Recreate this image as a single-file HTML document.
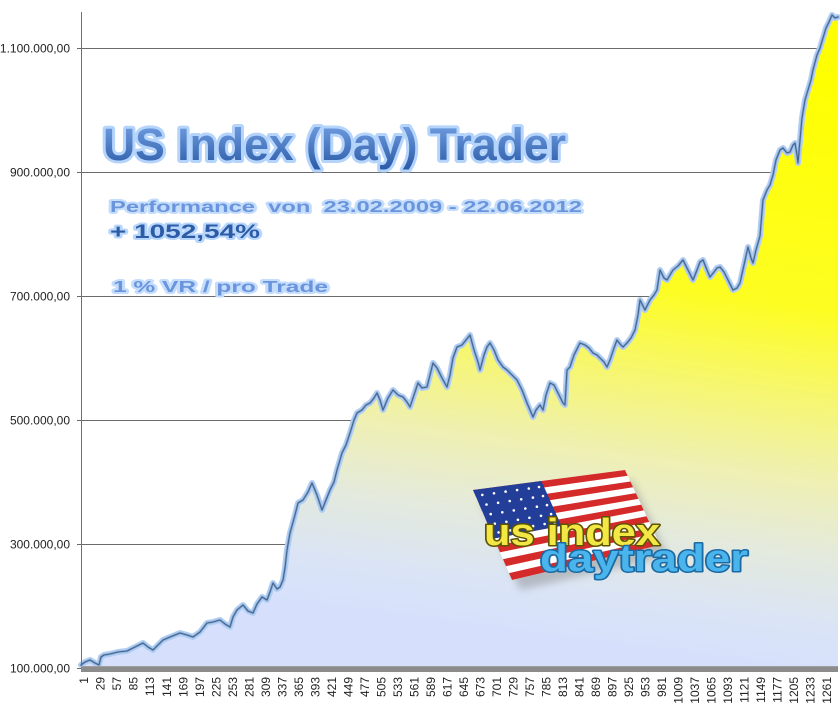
<!DOCTYPE html>
<html><head><meta charset="utf-8"><style>
html,body{margin:0;padding:0;background:#fff;}
svg{display:block;}
</style></head><body>
<svg width="840" height="706" viewBox="0 0 840 706" xmlns="http://www.w3.org/2000/svg">
<defs>
<linearGradient id="fillg" gradientUnits="userSpaceOnUse" x1="780" y1="60" x2="700" y2="660">
<stop offset="0" stop-color="#ffff00"/>
<stop offset="0.4" stop-color="#fdfd22"/>
<stop offset="0.55" stop-color="#f6f672"/>
<stop offset="0.68" stop-color="#eff0b2"/>
<stop offset="0.8" stop-color="#e4eadc"/>
<stop offset="0.92" stop-color="#dae4f6"/>
<stop offset="1" stop-color="#d6e0fc"/>
</linearGradient>
<linearGradient id="titleg" x1="0" y1="0" x2="0" y2="1">
<stop offset="0" stop-color="#78a4e6"/>
<stop offset="1" stop-color="#2a5aa6"/>
</linearGradient>
<filter id="blur" x="-20%" y="-20%" width="140%" height="140%"><feGaussianBlur stdDeviation="4"/></filter>
<polyline id="ln" points="81,665 85,662 90,660 95,663 99,665 101,657 104,655 110,654 118,652 127,651 135,647 143,643 148,647 153,650 158,645 163,640 170,637 180,633 187,635 193,637 200,632 207,623 213,622 220,620 225,624 230,627 233,617 237,610 243,605 248,611 253,613 257,604 262,597 267,600 270,592 273,583 277,589 280,587 283,580 285,568 287,550 290,533 295,515 298,503 303,500 308,492 312,483 317,495 322,510 326,500 330,490 334,482 337,470 342,453 346,445 350,433 354,420 357,413 362,410 366,405 370,403 374,398 377,393 380,400 383,410 388,398 393,390 398,395 403,397 407,402 410,407 414,395 418,383 422,388 427,387 430,375 433,363 437,368 442,378 447,387 450,375 453,358 457,347 462,345 466,340 470,335 474,350 478,362 480,370 484,355 487,347 490,343 494,350 498,360 503,367 507,370 512,375 517,380 522,390 527,403 530,410 533,417 536,410 540,405 543,410 546,395 550,383 554,385 558,393 563,403 565,405 567,370 570,367 574,355 578,347 580,343 585,345 589,348 593,353 597,355 600,358 604,362 607,367 610,360 614,348 617,340 620,344 623,347 627,343 631,338 635,330 638,315 640,300 643,306 645,310 650,300 654,295 657,290 660,270 664,278 667,280 670,275 673,270 678,266 683,260 688,270 693,280 697,270 700,262 703,260 707,270 710,277 714,272 717,268 720,267 724,272 728,280 733,290 737,288 740,283 744,265 748,247 751,258 753,263 756,250 760,236 763,200 767,190 770,185 773,175 776,160 780,150 783,148 787,153 790,152 793,145 795,143 797,155 798,163 800,140 802,118 805,100 808,90 811,80 813,70 817,55 820,48 823,38 826,28 829,22 832,15 835,18 838,17"/>
</defs>

<!-- gridlines -->
<g stroke="#6a6a6a" stroke-width="1">
<line x1="81" y1="48.5" x2="838" y2="48.5"/>
<line x1="81" y1="172.5" x2="838" y2="172.5"/>
<line x1="81" y1="296.5" x2="838" y2="296.5"/>
<line x1="81" y1="420.5" x2="838" y2="420.5"/>
<line x1="81" y1="544.5" x2="838" y2="544.5"/>
<line x1="77" y1="48.5" x2="81" y2="48.5"/>
<line x1="77" y1="172.5" x2="81" y2="172.5"/>
<line x1="77" y1="296.5" x2="81" y2="296.5"/>
<line x1="77" y1="420.5" x2="81" y2="420.5"/>
<line x1="77" y1="544.5" x2="81" y2="544.5"/>
<line x1="77" y1="668.5" x2="81" y2="668.5"/>
</g>

<!-- area fill -->
<path fill="url(#fillg)" d="M81,668 L81,665 85,662 90,660 95,663 99,665 101,657 104,655 110,654 118,652 127,651 135,647 143,643 148,647 153,650 158,645 163,640 170,637 180,633 187,635 193,637 200,632 207,623 213,622 220,620 225,624 230,627 233,617 237,610 243,605 248,611 253,613 257,604 262,597 267,600 270,592 273,583 277,589 280,587 283,580 285,568 287,550 290,533 295,515 298,503 303,500 308,492 312,483 317,495 322,510 326,500 330,490 334,482 337,470 342,453 346,445 350,433 354,420 357,413 362,410 366,405 370,403 374,398 377,393 380,400 383,410 388,398 393,390 398,395 403,397 407,402 410,407 414,395 418,383 422,388 427,387 430,375 433,363 437,368 442,378 447,387 450,375 453,358 457,347 462,345 466,340 470,335 474,350 478,362 480,370 484,355 487,347 490,343 494,350 498,360 503,367 507,370 512,375 517,380 522,390 527,403 530,410 533,417 536,410 540,405 543,410 546,395 550,383 554,385 558,393 563,403 565,405 567,370 570,367 574,355 578,347 580,343 585,345 589,348 593,353 597,355 600,358 604,362 607,367 610,360 614,348 617,340 620,344 623,347 627,343 631,338 635,330 638,315 640,300 643,306 645,310 650,300 654,295 657,290 660,270 664,278 667,280 670,275 673,270 678,266 683,260 688,270 693,280 697,270 700,262 703,260 707,270 710,277 714,272 717,268 720,267 724,272 728,280 733,290 737,288 740,283 744,265 748,247 751,258 753,263 756,250 760,236 763,200 767,190 770,185 773,175 776,160 780,150 783,148 787,153 790,152 793,145 795,143 797,155 798,163 800,140 802,118 805,100 808,90 811,80 813,70 817,55 820,48 823,38 826,28 829,22 832,15 835,18 838,17 L838,668 Z"/>

<!-- line glow + line -->
<g fill="none" stroke-linejoin="round" stroke-linecap="round">
<use href="#ln" stroke="#b2cef4" stroke-width="6"/>
<use href="#ln" stroke="#8aaed8" stroke-width="2.6"/>
<use href="#ln" stroke="#46648a" stroke-width="1.1"/>
</g>

<!-- axis -->
<line x1="81.5" y1="12" x2="81.5" y2="668" stroke="#707070" stroke-width="1"/>
<rect x="81" y="666" width="757" height="6" fill="#8c8c8c"/>
<rect x="81" y="666" width="757" height="1" fill="#9e9e9e"/>

<!-- y labels -->
<g font-family="Liberation Sans, Arial, sans-serif" font-size="12" fill="#222" text-anchor="end">
<text x="70" y="52.5">1.100.000,00</text>
<text x="70" y="176.5">900.000,00</text>
<text x="70" y="300.5">700.000,00</text>
<text x="70" y="424.5">500.000,00</text>
<text x="70" y="548.5">300.000,00</text>
<text x="70" y="672.5">100.000,00</text>
</g>

<!-- x labels -->
<g font-family="Liberation Sans, Arial, sans-serif" font-size="12" fill="#222" text-anchor="end">
<text transform="translate(84,677) rotate(-90)" dy=".35em">1</text>
<text transform="translate(100.5,677) rotate(-90)" dy=".35em">29</text>
<text transform="translate(117,677) rotate(-90)" dy=".35em">57</text>
<text transform="translate(133.5,677) rotate(-90)" dy=".35em">85</text>
<text transform="translate(150,677) rotate(-90)" dy=".35em">113</text>
<text transform="translate(166.6,677) rotate(-90)" dy=".35em">141</text>
<text transform="translate(183.1,677) rotate(-90)" dy=".35em">169</text>
<text transform="translate(199.6,677) rotate(-90)" dy=".35em">197</text>
<text transform="translate(216.1,677) rotate(-90)" dy=".35em">225</text>
<text transform="translate(232.6,677) rotate(-90)" dy=".35em">253</text>
<text transform="translate(249.1,677) rotate(-90)" dy=".35em">281</text>
<text transform="translate(265.6,677) rotate(-90)" dy=".35em">309</text>
<text transform="translate(282.1,677) rotate(-90)" dy=".35em">337</text>
<text transform="translate(298.6,677) rotate(-90)" dy=".35em">365</text>
<text transform="translate(315.1,677) rotate(-90)" dy=".35em">393</text>
<text transform="translate(331.6,677) rotate(-90)" dy=".35em">421</text>
<text transform="translate(348.2,677) rotate(-90)" dy=".35em">449</text>
<text transform="translate(364.7,677) rotate(-90)" dy=".35em">477</text>
<text transform="translate(381.2,677) rotate(-90)" dy=".35em">505</text>
<text transform="translate(397.7,677) rotate(-90)" dy=".35em">533</text>
<text transform="translate(414.2,677) rotate(-90)" dy=".35em">561</text>
<text transform="translate(430.7,677) rotate(-90)" dy=".35em">589</text>
<text transform="translate(447.2,677) rotate(-90)" dy=".35em">617</text>
<text transform="translate(463.7,677) rotate(-90)" dy=".35em">645</text>
<text transform="translate(480.2,677) rotate(-90)" dy=".35em">673</text>
<text transform="translate(496.8,677) rotate(-90)" dy=".35em">701</text>
<text transform="translate(513.3,677) rotate(-90)" dy=".35em">729</text>
<text transform="translate(529.8,677) rotate(-90)" dy=".35em">757</text>
<text transform="translate(546.3,677) rotate(-90)" dy=".35em">785</text>
<text transform="translate(562.8,677) rotate(-90)" dy=".35em">813</text>
<text transform="translate(579.3,677) rotate(-90)" dy=".35em">841</text>
<text transform="translate(595.8,677) rotate(-90)" dy=".35em">869</text>
<text transform="translate(612.3,677) rotate(-90)" dy=".35em">897</text>
<text transform="translate(628.8,677) rotate(-90)" dy=".35em">925</text>
<text transform="translate(645.3,677) rotate(-90)" dy=".35em">953</text>
<text transform="translate(661.8,677) rotate(-90)" dy=".35em">981</text>
<text transform="translate(678.4,677) rotate(-90)" dy=".35em">1009</text>
<text transform="translate(694.9,677) rotate(-90)" dy=".35em">1037</text>
<text transform="translate(711.4,677) rotate(-90)" dy=".35em">1065</text>
<text transform="translate(727.9,677) rotate(-90)" dy=".35em">1093</text>
<text transform="translate(744.4,677) rotate(-90)" dy=".35em">1121</text>
<text transform="translate(760.9,677) rotate(-90)" dy=".35em">1149</text>
<text transform="translate(777.4,677) rotate(-90)" dy=".35em">1177</text>
<text transform="translate(793.9,677) rotate(-90)" dy=".35em">1205</text>
<text transform="translate(810.4,677) rotate(-90)" dy=".35em">1233</text>
<text transform="translate(827,677) rotate(-90)" dy=".35em">1261</text>
</g>

<!-- title texts -->
<g font-family="Liberation Sans, Arial, sans-serif" font-weight="bold" paint-order="stroke" stroke-linejoin="round">
<text x="103" y="160" font-size="45" textLength="463" lengthAdjust="spacingAndGlyphs" fill="url(#titleg)" stroke="#b4d4fb" stroke-width="6">US Index (Day) Trader</text>
<text x="110" y="212" font-size="16" textLength="472" lengthAdjust="spacingAndGlyphs" fill="#6a94dc" stroke="#c4ddfc" stroke-width="4" xml:space="preserve">Performance  von  23.02.2009 - 22.06.2012</text>
<text x="110" y="238" font-size="19" textLength="150" lengthAdjust="spacingAndGlyphs" fill="#2c5ca6" stroke="#b8d6fb" stroke-width="4">+ 1052,54%</text>
<text x="113" y="292" font-size="16" textLength="215" lengthAdjust="spacingAndGlyphs" fill="#6a94dc" stroke="#c4ddfc" stroke-width="4">1 % VR / pro Trade</text>
</g>

<!-- logo -->
<g>
<polygon points="480,500 632,480 668,556 520,590" fill="#6a6a6a" opacity="0.35" filter="url(#blur)"/>
<polygon points="473,490 625,470 660,545 512,580" fill="#ffffff"/>
<g fill="#d42a2a">
<polygon points="473,490 625,470 627.7,475.8 476,496.9"/>
<polygon points="479,503.8 630.4,481.5 633.1,487.3 482,510.8"/>
<polygon points="485,517.7 635.8,493.1 638.5,498.8 488,524.6"/>
<polygon points="491,531.5 641.2,504.6 643.8,510.4 494,538.5"/>
<polygon points="497,545.4 646.5,516.2 649.2,521.9 500,552.3"/>
<polygon points="503,559.2 651.9,527.7 654.6,533.5 506,566.2"/>
<polygon points="509,573.1 657.3,539.2 660,545 512,580"/>
</g>
<polygon points="473,490 541.4,481 561.4,525.8 494,538.5" fill="#233e98"/>
<g fill="#ffffff">
<circle cx="482.3" cy="494.9" r="1.3"/><circle cx="486.5" cy="504.5" r="1.3"/><circle cx="490.7" cy="514.1" r="1.3"/><circle cx="494.8" cy="523.7" r="1.3"/><circle cx="498.6" cy="532.4" r="1.3"/>
<circle cx="494" cy="493.3" r="1.3"/><circle cx="498.1" cy="502.8" r="1.3"/><circle cx="502.3" cy="512.3" r="1.3"/><circle cx="506.4" cy="521.8" r="1.3"/><circle cx="510.2" cy="530.4" r="1.3"/>
<circle cx="505.6" cy="491.6" r="1.3"/><circle cx="509.7" cy="501" r="1.3"/><circle cx="513.8" cy="510.4" r="1.3"/><circle cx="517.9" cy="519.8" r="1.3"/><circle cx="521.6" cy="528.2" r="1.3"/>
<circle cx="517.1" cy="490" r="1.3"/><circle cx="521.2" cy="499.3" r="1.3"/><circle cx="525.3" cy="508.5" r="1.3"/><circle cx="529.4" cy="517.8" r="1.3"/><circle cx="533.1" cy="526.1" r="1.3"/>
<circle cx="528.8" cy="488.5" r="1.3"/><circle cx="532.9" cy="497.6" r="1.3"/><circle cx="536.9" cy="506.7" r="1.3"/><circle cx="541" cy="515.8" r="1.3"/><circle cx="544.6" cy="524" r="1.3"/>
<circle cx="539" cy="487" r="1.3"/><circle cx="543" cy="496" r="1.3"/><circle cx="547" cy="505.1" r="1.3"/><circle cx="551.1" cy="514.1" r="1.3"/><circle cx="554.7" cy="522.2" r="1.3"/>
</g>
<g font-family="Liberation Sans, Arial, sans-serif" font-weight="bold" paint-order="stroke" stroke-linejoin="round">
<text x="484" y="545" font-size="38" textLength="176" lengthAdjust="spacingAndGlyphs" fill="#f3e746" stroke="#5c5400" stroke-width="3">us index</text>
<text x="540" y="571" font-size="38" textLength="208" lengthAdjust="spacingAndGlyphs" fill="#4ab4ec" stroke="#1c6aa4" stroke-width="3">daytrader</text>
</g>
</g>
</svg>
</body></html>
